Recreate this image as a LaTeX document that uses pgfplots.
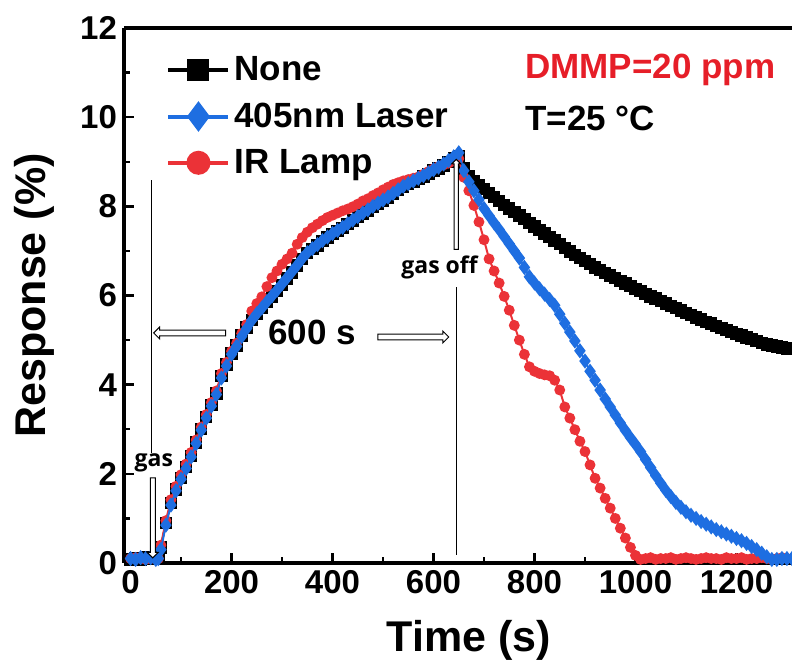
\documentclass[border=0pt]{standalone}
\usepackage{fontspec}
\setmainfont{Liberation Sans}
\newfontfamily\annfont{Open Sans}
\usepackage{pgfplots}
\pgfplotsset{compat=1.18}
\usepackage{pgfplotstable}
\usetikzlibrary{shapes.arrows}
\definecolor{cblue}{RGB}{30,110,225}
\definecolor{cred}{RGB}{235,50,55}
\definecolor{tred}{RGB}{230,30,40}

\pgfplotstableread{
x y
0 0.08
10 0.10
20 0.08
30 0.12
40 0.10
50 0.10
55 0.12
60 0.35
70 0.90
80 1.35
90 1.65
100 1.90
110 2.15
120 2.40
130 2.70
140 3.00
150 3.28
160 3.55
170 3.80
180 4.20
190 4.45
200 4.70
210 4.88
220 5.10
230 5.28
240 5.45
250 5.60
260 5.72
270 5.85
280 5.98
290 6.10
300 6.24
310 6.38
320 6.52
330 6.67
340 6.82
350 6.95
360 7.04
370 7.12
380 7.22
390 7.30
400 7.38
410 7.45
420 7.52
430 7.60
440 7.68
450 7.76
460 7.84
470 7.91
480 7.98
490 8.06
500 8.13
510 8.20
520 8.28
530 8.36
540 8.44
550 8.50
560 8.55
570 8.61
580 8.67
590 8.73
600 8.80
610 8.85
620 8.92
630 9.00
640 9.07
650 9.12
660 8.85
670 8.68
680 8.57
690 8.48
700 8.39
710 8.30
720 8.21
730 8.12
740 8.03
750 7.95
760 7.87
770 7.79
780 7.71
790 7.63
800 7.55
810 7.47
820 7.39
830 7.31
840 7.23
850 7.15
860 7.07
870 6.99
880 6.91
890 6.84
900 6.77
910 6.70
920 6.63
930 6.57
940 6.51
950 6.45
960 6.39
970 6.33
980 6.27
990 6.21
1000 6.15
1010 6.10
1020 6.04
1030 5.98
1040 5.93
1050 5.87
1060 5.82
1070 5.77
1080 5.72
1090 5.66
1100 5.61
1110 5.56
1120 5.51
1130 5.46
1140 5.41
1150 5.37
1160 5.32
1170 5.27
1180 5.23
1190 5.18
1200 5.14
1210 5.10
1220 5.06
1230 5.02
1240 4.98
1250 4.94
1260 4.90
1270 4.88
1280 4.86
1290 4.83
1300 4.81
1310 4.80
}\tblack

\pgfplotstableread{
x y
0 0.10
10 0.08
20 0.12
30 0.10
40 0.12
50 0.08
55 0.10
60 0.30
70 0.85
80 1.30
90 1.62
100 1.88
110 2.12
120 2.38
130 2.68
140 2.98
150 3.25
160 3.52
170 3.78
180 4.15
190 4.42
200 4.68
210 4.86
220 5.08
230 5.26
240 5.44
250 5.59
260 5.72
270 5.86
280 5.99
290 6.12
300 6.26
310 6.40
320 6.54
330 6.68
340 6.83
350 6.96
360 7.05
370 7.14
380 7.23
390 7.31
400 7.39
410 7.46
420 7.53
430 7.61
440 7.69
450 7.77
460 7.85
470 7.92
480 8.00
490 8.07
500 8.14
510 8.21
520 8.29
530 8.37
540 8.45
550 8.51
560 8.57
570 8.63
580 8.69
590 8.75
600 8.82
610 8.88
620 8.95
630 9.03
640 9.11
650 9.20
660 8.80
670 8.55
680 8.35
690 8.15
700 7.95
710 7.79
720 7.63
730 7.48
740 7.32
750 7.16
760 7.00
770 6.84
780 6.63
790 6.42
800 6.28
810 6.15
820 6.03
830 5.91
840 5.78
850 5.58
860 5.38
870 5.18
880 4.98
890 4.76
900 4.53
910 4.30
920 4.10
930 3.88
940 3.68
950 3.50
960 3.32
970 3.14
980 2.97
990 2.81
1000 2.66
1010 2.50
1020 2.32
1030 2.14
1040 1.96
1050 1.79
1060 1.63
1070 1.49
1080 1.36
1090 1.25
1100 1.15
1110 1.07
1120 1.00
1130 0.93
1140 0.87
1150 0.81
1160 0.75
1170 0.70
1180 0.65
1190 0.60
1200 0.55
1210 0.50
1220 0.44
1230 0.37
1240 0.30
1250 0.22
1260 0.14
1270 0.08
1280 0.08
1290 0.10
1300 0.10
1310 0.10
}\tblue

\pgfplotstableread{
x y
0 0.10
10 0.12
20 0.10
30 0.08
40 0.10
50 0.12
55 0.10
60 0.40
70 0.95
80 1.42
90 1.72
100 1.98
110 2.22
120 2.48
130 2.76
140 3.05
150 3.33
160 3.60
170 3.86
180 4.25
190 4.50
200 4.75
210 4.93
220 5.15
230 5.35
240 5.65
250 5.82
260 5.97
270 6.20
280 6.40
290 6.55
300 6.70
310 6.82
320 6.95
330 7.15
340 7.30
350 7.42
360 7.52
370 7.60
380 7.68
390 7.75
400 7.80
410 7.85
420 7.90
430 7.94
440 7.99
450 8.05
460 8.12
470 8.17
480 8.24
490 8.30
500 8.37
510 8.43
520 8.49
530 8.53
540 8.57
550 8.60
560 8.63
570 8.66
580 8.72
590 8.78
600 8.84
610 8.89
620 8.93
630 8.97
640 9.02
650 9.07
660 8.65
670 8.35
680 8.02
690 7.65
700 7.25
710 6.82
720 6.55
730 6.28
740 5.98
750 5.67
760 5.33
770 5.00
780 4.68
790 4.40
800 4.30
810 4.25
820 4.22
830 4.20
840 4.10
850 3.88
860 3.50
870 3.25
880 2.99
890 2.73
900 2.50
910 2.20
920 1.90
930 1.68
940 1.45
950 1.23
960 1.00
970 0.78
980 0.56
990 0.35
1000 0.17
1010 0.08
1020 0.10
1030 0.12
1040 0.08
1050 0.10
1060 0.10
1070 0.12
1080 0.08
1090 0.10
1100 0.12
1110 0.10
1120 0.08
1130 0.10
1140 0.12
1150 0.10
1160 0.10
1170 0.08
1180 0.12
1190 0.10
1200 0.10
1210 0.12
1220 0.08
1230 0.10
1240 0.10
1250 0.12
1260 0.10
1270 0.08
1280 0.10
1290 0.12
1300 0.10
1310 0.10
}\tred

\begin{document}
\begin{tikzpicture}
\begin{axis}[
  at={(0,0)}, anchor=south west,
  scale only axis, width=334pt, height=267.5pt,
  xmin=-13, xmax=1310, ymin=0, ymax=12,
  axis x line=box, axis y line=left,
  axis line style={line width=2pt, -},
  xtick pos=bottom, ytick pos=left,
  xtick={0,200,...,1200}, ytick={0,2,...,12},
  minor x tick num=1, minor y tick num=1,
  major tick length=5pt, minor tick length=3pt,
  tick style={line width=1.2pt, black},
  tick align=inside,
  /pgf/number format/assume math mode=true,
  /pgf/number format/1000 sep={},
  ticklabel style={font=\fontsize{16.5}{18}\selectfont\bfseries},
  xlabel={Time (s)}, ylabel={Response (\%)},
  every axis x label/.style={at={(axis description cs:0.516,-0.166)}, anchor=base, font=\fontsize{21.5}{24}\selectfont\bfseries},
  every axis y label/.style={at={(axis description cs:-0.118,0.5)}, rotate=90, anchor=base, font=\fontsize{21.5}{24}\selectfont\bfseries},
  clip mode=individual,
  legend image code/.code={\draw[mark repeat=2,mark phase=2,#1] plot coordinates {(0pt,0pt) (15pt,0pt) (30pt,0pt)};},
  legend style={draw=none, fill=none, at={(axis description cs:0.054,0.962)}, anchor=north west,
    font=\fontsize{17.5}{20}\selectfont\bfseries, row sep=5.5pt},
  legend cell align=left,
]
\addplot[black, line width=1pt, mark=square*, mark size=2.6pt, forget plot] table[x=x,y=y] {\tblack};
\addplot[cred, line width=1pt, mark=*, mark size=2.2pt, forget plot] table[x=x,y=y] {\tred};
\addplot[cblue, line width=1pt, mark=diamond*, mark size=3pt, forget plot] table[x=x,y=y] {\tblue};

\addlegendimage{black, line width=2pt, mark=square*, mark size=4.5pt}
\addlegendentry{None}
\addlegendimage{cblue, line width=2pt, mark=diamond*, mark size=6pt}
\addlegendentry{405nm Laser}
\addlegendimage{cred, line width=2pt, mark=*, mark size=5pt}
\addlegendentry{IR Lamp}

% annotations
\draw[black, line width=0.5pt] (axis cs:42,8.59) -- (axis cs:42,2.47);
\node[font=\annfont\bfseries\fontsize{11.5}{13}\selectfont] at (axis cs:46,2.24) {gas};
\node[single arrow, draw, line width=0.5pt, fill=white, inner sep=1pt, single arrow head extend=1.5pt, single arrow head indent=0pt, minimum height=40pt, rotate=-90] at (axis cs:44,1.04) {};

\draw[black, line width=0.5pt] (axis cs:645,6.19) -- (axis cs:645,0.18);
\node[font=\annfont\bfseries\fontsize{11.5}{13}\selectfont] at (axis cs:612,6.64) {gas off};
\node[single arrow, draw, line width=0.5pt, fill=white, inner sep=0.8pt, single arrow head extend=1.2pt, single arrow head indent=0pt, minimum height=45pt, rotate=90] at (axis cs:645,8.02) {};

\node[font=\fontsize{17.5}{20}\selectfont\bfseries] at (axis cs:360,5.16) {600 s};
\node[single arrow, draw, line width=0.5pt, fill=white, inner sep=1.2pt, single arrow head extend=1.5pt, single arrow head indent=0pt, minimum height=36pt, rotate=180] at (axis cs:120,5.16) {};
\node[single arrow, draw, line width=0.5pt, fill=white, inner sep=1.2pt, single arrow head extend=1.5pt, single arrow head indent=0pt, minimum height=35.5pt] at (axis cs:557,5.07) {};

\node[font=\fontsize{17.5}{20}\selectfont\bfseries, text=tred, anchor=west] at (axis cs:768,11.05) {DMMP=20 ppm};
\node[font=\fontsize{17.5}{20}\selectfont\bfseries, anchor=west] at (axis cs:768,9.98) {T=25 °C};
\end{axis}
\pgfresetboundingbox
\path (-62pt,-50.5pt) rectangle (334pt,281.5pt);
\end{tikzpicture}
\end{document}
